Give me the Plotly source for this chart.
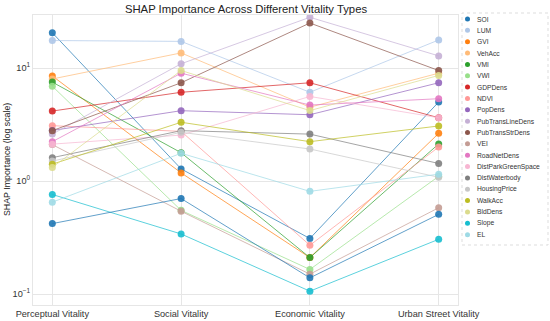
import plotly.graph_objects as go

categories = ["Perceptual Vitality", "Social Vitality", "Economic Vitality", "Urban Street Vitality"]

features = ["SOI", "LUM", "GVI", "VehAcc", "VMI", "VWI", "GDPDens", "NDVI", "PopDens",
            "PubTransLineDens", "PubTransStrDens", "VEI", "RoadNetDens", "DistParkGreenSpace",
            "DistWaterbody", "HousingPrice", "WalkAcc", "BldDens", "Slope", "EL", "Extra"]

SOI = [20.5, 1.28, 0.31, 5.0]
LUM = [17.5, 17.2, 6.1, 17.7]
GVI = [8.5, 1.18, 0.21, 2.64]
VehAcc = [8.0, 13.6, 4.5, 9.0]
VMI = [7.5, 1.78, 0.21, 2.13]
VWI = [6.9, 0.55, 0.165, 1.1]
GDPDens = [4.16, 6.1, 7.4, 3.63]
NDVI = [3.09, 2.75, 0.27, 2.0]
PopDens = [2.8, 4.19, 3.86, 7.4]
PubTransLineDens = [2.6, 10.9, 28.1, 12.8]
PubTransStrDens = [2.79, 7.4, 25.0, 9.5]
VEI = [2.1, 0.54, 0.15, 0.58]
RoadNetDens = [2.23, 9.0, 4.7, 5.35]
DistParkGreenSpace = [2.12, 2.55, 5.6, 3.63]
DistWaterbody = [1.61, 2.79, 2.6, 1.43]
HousingPrice = [1.5, 2.7, 1.92, 1.08]
WalkAcc = [1.41, 3.31, 2.23, 3.07]
BldDens = [1.32, 9.5, 4.2, 8.6]
Slope = [0.76, 0.34, 0.106, 0.305]
EL = [0.65, 1.76, 0.81, 1.15]
Extra = [0.42, 0.70, 0.139, 0.507]

values = [SOI, LUM, GVI, VehAcc, VMI, VWI, GDPDens, NDVI, PopDens, PubTransLineDens,
          PubTransStrDens, VEI, RoadNetDens, DistParkGreenSpace, DistWaterbody, HousingPrice,
          WalkAcc, BldDens, Slope, EL, Extra]

tab20 = ["#1f77b4", "#aec7e8", "#ff7f0e", "#ffbb78", "#2ca02c", "#98df8a", "#d62728", "#ff9896",
         "#9467bd", "#c5b0d5", "#8c564b", "#c49c94", "#e377c2", "#f7b6d2", "#7f7f7f", "#c7c7c7",
         "#bcbd22", "#dbdb8d", "#17becf", "#9edae5"]

def rgba(h, a):
    h = h.lstrip("#")
    r, g, b = int(h[0:2], 16), int(h[2:4], 16), int(h[4:6], 16)
    return f"rgba({r},{g},{b},{a})"

W, H = 550, 321
L, R, T, B = 33, 92, 15, 16
pw, ph = W - L - R, H - T - B

def px_x(p):
    return (p - L) / pw

def px_y(p):
    return (H - B - p) / ph

fig = go.Figure()
for i, (name, vals) in enumerate(zip(features, values)):
    c = tab20[i % 20]
    fig.add_trace(go.Scatter(
        x=categories, y=vals, mode="lines+markers", name=name,
        showlegend=False,
        line=dict(color=rgba(c, 0.7), width=1),
        marker=dict(color=rgba(c, 0.9), size=7, line=dict(width=0)),
    ))

# manual legend (compact, like the reference)
shapes = [dict(type="rect", xref="paper", yref="paper",
               x0=px_x(462), x1=px_x(548), y0=px_y(245), y1=px_y(13),
               line=dict(color="#dddddd", width=1, dash="dot"), fillcolor="white", layer="above")]
annotations = []
for i, name in enumerate(features[:20]):
    yc = 19 + i * 11.35
    r = 2.5
    shapes.append(dict(type="circle", xref="paper", yref="paper",
                       x0=px_x(467.5 - r), x1=px_x(467.5 + r), y0=px_y(yc + r), y1=px_y(yc - r),
                       fillcolor=tab20[i], line=dict(width=0), layer="above"))
    annotations.append(dict(xref="paper", yref="paper", x=px_x(475), y=px_y(yc),
                            xanchor="left", yanchor="middle", text=name, showarrow=False,
                            font=dict(size=6.7, color="#333")))

annotations.append(dict(xref="paper", yref="paper", x=px_x(7), y=0.5, xanchor="center",
                        yanchor="middle", textangle=-90, text="SHAP Importance (log scale)",
                        showarrow=False, font=dict(size=8.8, color="#222")))

fig.update_layout(
    width=W, height=H,
    margin=dict(l=L, r=R, t=T, b=B),
    paper_bgcolor="white", plot_bgcolor="white",
    font=dict(family="Liberation Sans, Arial, sans-serif", color="#222"),
    title=dict(text="SHAP Importance Across Different Vitality Types", x=246 / W, xanchor="center",
               y=1 - 9.5 / H, yanchor="middle", font=dict(size=11.3, color="#222")),
    showlegend=False,
    shapes=shapes,
    annotations=annotations,
)
fig.update_xaxes(range=[-0.15, 3.15], showgrid=True, gridcolor="#e6e6e6", gridwidth=1,
                 showline=True, linecolor="#e6e6e6", mirror=True, ticks="",
                 tickfont=dict(size=9.2, color="#333"), zeroline=False, automargin=False)
fig.update_yaxes(type="log", range=[-1.097, 1.469], showgrid=True, gridcolor="#e6e6e6",
                 showline=True, linecolor="#e6e6e6", mirror=True, ticks="",
                 tickvals=[0.1, 1, 10], ticktext=["10<sup>−1</sup>", "10<sup>0</sup>", "10<sup>1</sup>"],
                 tickfont=dict(size=9.2, color="#333"), zeroline=False, automargin=False)

fig.write_html("out.html", config={"displayModeBar": False},
               post_script="document.body.style.margin='0';document.body.style.padding='0';")
